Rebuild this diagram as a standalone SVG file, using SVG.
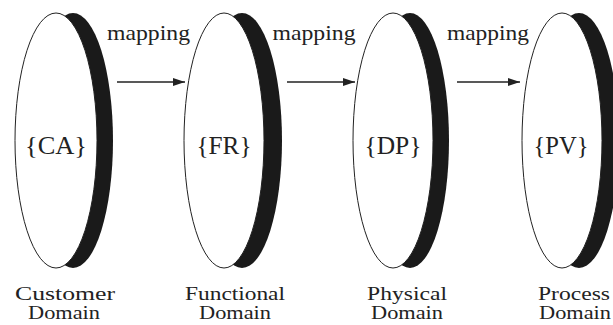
<svg xmlns="http://www.w3.org/2000/svg" width="613" height="325" viewBox="0 0 613 325">
<style>
text{font-family:'Liberation Serif',serif;fill:#222;text-anchor:middle}
.back{fill:#1a1a1a}
.front{fill:#fff;stroke:#222;stroke-width:1}
.set{font-size:25px}
.map{font-size:21px}
.dom{font-size:19px}
.conn{stroke:#222;stroke-width:1.6;fill:none;marker-end:url(#ah)}
</style>
<defs>
<marker id="ah" viewBox="0 0 12 8" refX="12" refY="4" markerWidth="12" markerHeight="8" markerUnits="userSpaceOnUse" orient="auto">
<path d="M0,0 L12,4 L0,8 Z" fill="#222"/>
</marker>
</defs>
<rect width="613" height="325" fill="#fff"/>
<g id="customer">
<ellipse class="back" cx="73" cy="140.5" rx="40" ry="127.5"/>
<ellipse class="front" cx="56" cy="140.5" rx="41" ry="127.5"/>
<text class="set" x="56" y="154" textLength="62" lengthAdjust="spacingAndGlyphs">{CA}</text>
<text class="dom" x="65" y="300" textLength="100" lengthAdjust="spacingAndGlyphs">Customer</text>
<text class="dom" x="64" y="319" textLength="72" lengthAdjust="spacingAndGlyphs">Domain</text>
</g>
<g id="functional">
<ellipse class="back" cx="242" cy="140.5" rx="40" ry="127.5"/>
<ellipse class="front" cx="224" cy="140.5" rx="40" ry="127.5"/>
<text class="set" x="224" y="154" textLength="55" lengthAdjust="spacingAndGlyphs">{FR}</text>
<text class="dom" x="235" y="300" textLength="100" lengthAdjust="spacingAndGlyphs">Functional</text>
<text class="dom" x="235" y="319" textLength="72" lengthAdjust="spacingAndGlyphs">Domain</text>
</g>
<g id="physical">
<ellipse class="back" cx="410" cy="140.5" rx="39" ry="127.5"/>
<ellipse class="front" cx="393" cy="140.5" rx="40" ry="127.5"/>
<text class="set" x="393" y="154" textLength="57" lengthAdjust="spacingAndGlyphs">{DP}</text>
<text class="dom" x="407" y="300" textLength="80" lengthAdjust="spacingAndGlyphs">Physical</text>
<text class="dom" x="407" y="319" textLength="72" lengthAdjust="spacingAndGlyphs">Domain</text>
</g>
<g id="process">
<ellipse class="back" cx="579" cy="140.5" rx="40" ry="127.5"/>
<ellipse class="front" cx="562" cy="140.5" rx="40" ry="127.5"/>
<text class="set" x="561" y="154" textLength="55" lengthAdjust="spacingAndGlyphs">{PV}</text>
<text class="dom" x="574" y="300" textLength="72" lengthAdjust="spacingAndGlyphs">Process</text>
<text class="dom" x="575" y="319" textLength="72" lengthAdjust="spacingAndGlyphs">Domain</text>
</g>
<g id="connectors">
<line class="conn" x1="117" y1="82" x2="185" y2="82"/>
<line class="conn" x1="287" y1="82" x2="355" y2="82"/>
<line class="conn" x1="457" y1="82" x2="520" y2="82"/>
<text class="map" x="148.5" y="40" textLength="83" lengthAdjust="spacingAndGlyphs">mapping</text>
<text class="map" x="314" y="40" textLength="83" lengthAdjust="spacingAndGlyphs">mapping</text>
<text class="map" x="488" y="40" textLength="82" lengthAdjust="spacingAndGlyphs">mapping</text>
</g>
</svg>
